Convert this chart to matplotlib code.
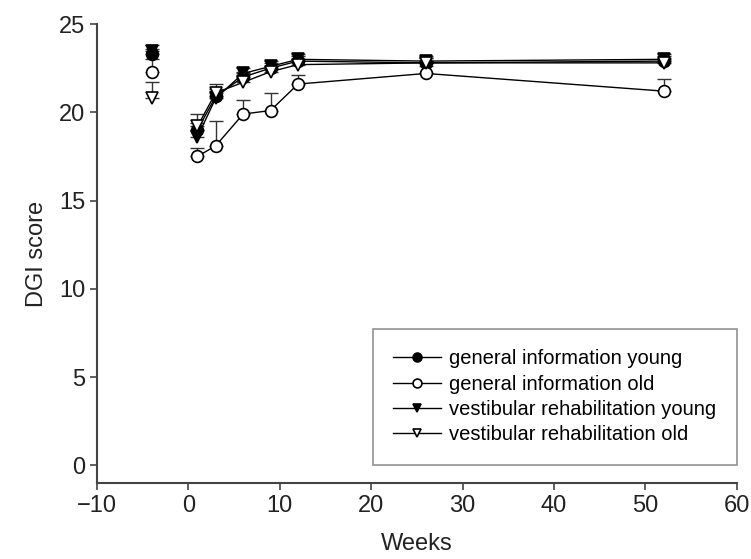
import numpy as np
import matplotlib
matplotlib.use("Agg")
import matplotlib.pyplot as plt

plt.rcParams['font.family'] = ['Liberation Sans', 'DejaVu Sans']

# weeks of follow-up; week -4 is the baseline visit (not joined by line)
weeks = [-4, 1, 3, 6, 9, 12, 26, 52]

gi_young = [23.3, 19.0, 20.9, 22.0, 22.5, 22.9, 22.8, 22.9]
gi_old = [22.3, 17.5, 18.1, 19.9, 20.1, 21.6, 22.2, 21.2]
vr_young = [23.5, 18.6, 20.8, 22.2, 22.6, 23.0, 22.9, 23.0]
vr_old = [20.8, 19.2, 21.1, 21.7, 22.3, 22.7, 22.8, 22.8]

# upper error (SEM), only the upper half is drawn
gi_young_err = [0.3, 0.4, 0.4, 0.3, 0.3, 0.3, 0.3, 0.3]
gi_old_err = [0.7, 0.5, 1.4, 0.8, 1.0, 0.5, 0.4, 0.7]
vr_young_err = [0.3, 0.4, 0.4, 0.3, 0.3, 0.3, 0.3, 0.3]
vr_old_err = [0.9, 0.7, 0.5, 0.4, 0.3, 0.3, 0.3, 0.3]

labels = ['general information young', 'general information old',
          'vestibular rehabilitation young', 'vestibular rehabilitation old']

series = [
    (gi_young, gi_young_err, 'o', 'black'),
    (gi_old, gi_old_err, 'o', 'white'),
    (vr_young, vr_young_err, 'v', 'black'),
    (vr_old, vr_old_err, 'v', 'white'),
]

fig = plt.figure(figsize=(7.51, 5.59), dpi=100)
ax = fig.add_axes([0.129, 0.136, 0.852, 0.821])

w = np.array(weeks)
for (vals, err, mk, fc), lab in zip(series, labels):
    v = np.array(vals)
    e = np.array(err)
    yerr = [np.zeros_like(e), e]
    # error bars (upper only)
    ax.errorbar(w, v, yerr=yerr, fmt='none', ecolor='#333333',
                elinewidth=1.0, capsize=5, capthick=1.0, zorder=2)
    # baseline marker on its own
    ax.plot(w[:1], v[:1], linestyle='none', marker=mk, markersize=8.5,
            markerfacecolor=fc, markeredgecolor='black', markeredgewidth=1.2,
            zorder=3)
    # follow-up connected
    ax.plot(w[1:], v[1:], color='black', linewidth=1.0, marker=mk,
            markersize=8.5, markerfacecolor=fc, markeredgecolor='black',
            markeredgewidth=1.2, zorder=3, label=lab)

ax.set_xlim(-10, 60)
ax.set_ylim(-1, 25)
ax.set_xticks(np.arange(-10, 61, 10))
ax.set_yticks(np.arange(0, 26, 5))

for s in ['top', 'right']:
    ax.spines[s].set_visible(False)
for s in ['left', 'bottom']:
    ax.spines[s].set_linewidth(1.5)
    ax.spines[s].set_color('#444444')
ax.spines['left'].set_bounds(-1, 25)

ax.tick_params(direction='out', length=5, width=1.2, colors='#444444',
               labelsize=17, labelcolor='#222222')
ax.set_xlabel('Weeks', fontsize=17, color='#222222', labelpad=12)
ax.set_ylabel('DGI score', fontsize=17, color='#222222', labelpad=8)

leg = ax.legend(loc='lower right', bbox_to_anchor=(1.0, 0.04),
                borderaxespad=0, fontsize=14.5, frameon=True, fancybox=False,
                handlelength=2.4, handletextpad=0.4, labelspacing=0.32,
                borderpad=1.0, markerscale=0.75)
leg.get_frame().set_edgecolor('#777777')
leg.get_frame().set_linewidth(1.2)

fig.savefig('out.png', dpi=100)
